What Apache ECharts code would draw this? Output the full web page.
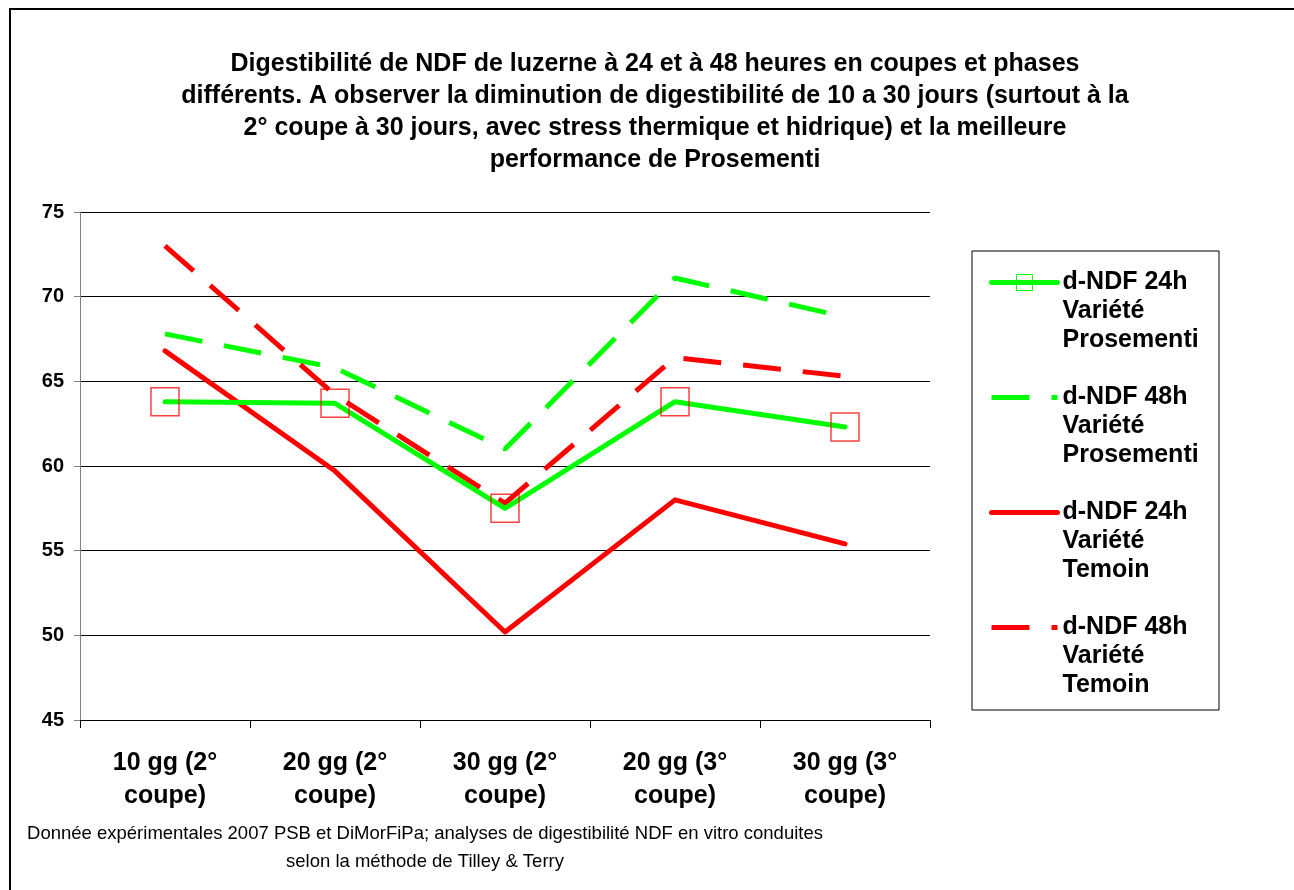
<!DOCTYPE html>
<html>
<head>
<meta charset="utf-8">
<script src="https://cdn.jsdelivr.net/npm/echarts@6/dist/echarts.min.js"></script>
<style>
html,body{margin:0;padding:0;background:#fff;}
#chart{width:1294px;height:890px;}
</style>
</head>
<body>
<div id="chart"></div>
<script>
const categories = ['10 gg (2°\ncoupe)', '20 gg (2°\ncoupe)', '30 gg (2°\ncoupe)', '20 gg (3°\ncoupe)', '30 gg (3°\ncoupe)'];
const seriesNames = ['d-NDF 24h Variété Prosementi', 'd-NDF 48h Variété Prosementi', 'd-NDF 24h Variété Temoin', 'd-NDF 48h Variété Temoin'];
const prosementi24 = [63.8, 63.7, 57.5, 63.8, 62.3];
const prosementi48 = [67.8, 65.8, 61.0, 71.1, 68.8];
const temoin24 = [66.8, 59.7, 50.2, 58.0, 55.4];
const temoin48 = [73.0, 64.2, 57.8, 66.4, 65.3];
const yTicks = [45, 50, 55, 60, 65, 70, 75];

const titleText = 'Digestibilité de NDF de luzerne à 24 et à 48 heures en coupes et phases\ndifférents. A observer la diminution de digestibilité de 10 a 30 jours (surtout à la\n2° coupe à 30 jours, avec stress thermique et hidrique) et la meilleure\nperformance de Prosementi';
const footText = 'Donnée expérimentales 2007 PSB et DiMorFiPa; analyses de digestibilité NDF en vitro conduites\nselon la méthode de Tilley & Terry';

const GREEN = '#00ff00', RED = '#ff0000';
const FONT = 'Arial, "Liberation Sans", sans-serif';
const DASH = [38, 22];

const chart = echarts.init(document.getElementById('chart'), null, {renderer: 'canvas'});

function legendLabel(name) {
  const parts = name.split(' ');
  // two leading empty lines so that the icon lines up with the first text line
  return '\n\n' + parts[0] + ' ' + parts[1] + '\n' + parts[2] + '\n' + parts[3];
}

const option = {
  backgroundColor: '#fff',
  animation: false,
  title: {
    text: titleText,
    left: 650,
    textAlign: 'center',
    top: 43,
    textStyle: {fontFamily: FONT, fontSize: 25, fontWeight: 'bold', color: '#000', lineHeight: 32}
  },
  grid: {left: 80, right: 364, top: 212, bottom: 170, containLabel: false},
  legend: {
    orient: 'vertical',
    left: 989,
    top: 210,
    padding: 0,
    itemWidth: 66,
    itemHeight: 20,
    itemGap: -30,
    selectedMode: false,
    formatter: legendLabel,
    textStyle: {fontFamily: FONT, fontSize: 25, fontWeight: 'bold', color: '#000', lineHeight: 29},
    data: [
      {name: seriesNames[0], itemStyle: {color: 'transparent', borderColor: GREEN, borderWidth: 1}, lineStyle: {color: GREEN, width: 5, type: 'solid', cap: 'round'}},
      {name: seriesNames[1], itemStyle: {opacity: 0}, lineStyle: {color: GREEN, width: 5, type: DASH, cap: 'butt'}},
      {name: seriesNames[2], itemStyle: {opacity: 0}, lineStyle: {color: RED, width: 5, type: 'solid', cap: 'round'}},
      {name: seriesNames[3], itemStyle: {opacity: 0}, lineStyle: {color: RED, width: 5, type: DASH, cap: 'butt'}}
    ]
  },
  xAxis: {
    type: 'category',
    data: categories,
    boundaryGap: true,
    axisLine: {lineStyle: {color: '#000', width: 1}},
    axisTick: {show: true, length: 8, lineStyle: {color: '#000'}},
    axisLabel: {fontFamily: FONT, fontSize: 25, fontWeight: 'bold', color: '#000', lineHeight: 33, margin: 27, interval: 0},
    splitLine: {show: false}
  },
  yAxis: {
    type: 'value',
    min: yTicks[0],
    max: yTicks[yTicks.length - 1],
    interval: 5,
    axisLine: {show: true, lineStyle: {color: '#808080', width: 1}},
    axisTick: {show: true, length: 6, lineStyle: {color: '#808080'}},
    axisLabel: {fontFamily: FONT, fontSize: 20, fontWeight: 'bold', color: '#000', margin: 16},
    splitLine: {show: true, lineStyle: {color: '#000', width: 1}}
  },
  graphic: [
    {type: 'rect', shape: {x: 10, y: 9, width: 1400, height: 1000}, style: {fill: 'none', stroke: '#000', lineWidth: 2}, silent: true},
    {type: 'rect', shape: {x: 972, y: 251, width: 247, height: 459}, style: {fill: 'none', stroke: '#000', lineWidth: 1}, silent: true, z: -1},
    {type: 'text', x: 425, y: 820, style: {text: footText, align: 'center', verticalAlign: 'top', fontFamily: FONT, fontSize: 18.5, fill: '#000', lineHeight: 28}, silent: true}
  ],
  series: [
    {
      name: seriesNames[0], type: 'line', data: prosementi24, color: GREEN,
      symbol: 'rect', symbolSize: 28, showAllSymbol: true,
      itemStyle: {color: 'transparent', borderColor: 'rgba(255,0,0,0.75)', borderWidth: 1.5},
      lineStyle: {color: GREEN, width: 5, cap: 'round', join: 'round'}, z: 5
    },
    {
      name: seriesNames[1], type: 'line', data: prosementi48, color: GREEN, symbol: 'none',
      lineStyle: {color: GREEN, width: 5, type: DASH, cap: 'butt'}, z: 3
    },
    {
      name: seriesNames[2], type: 'line', data: temoin24, color: RED, symbol: 'none',
      lineStyle: {color: RED, width: 5, cap: 'round', join: 'round'}, z: 2
    },
    {
      name: seriesNames[3], type: 'line', data: temoin48, color: RED, symbol: 'none',
      lineStyle: {color: RED, width: 5, type: DASH, cap: 'butt'}, z: 4
    }
  ]
};
chart.setOption(option);
</script>
</body>
</html>
